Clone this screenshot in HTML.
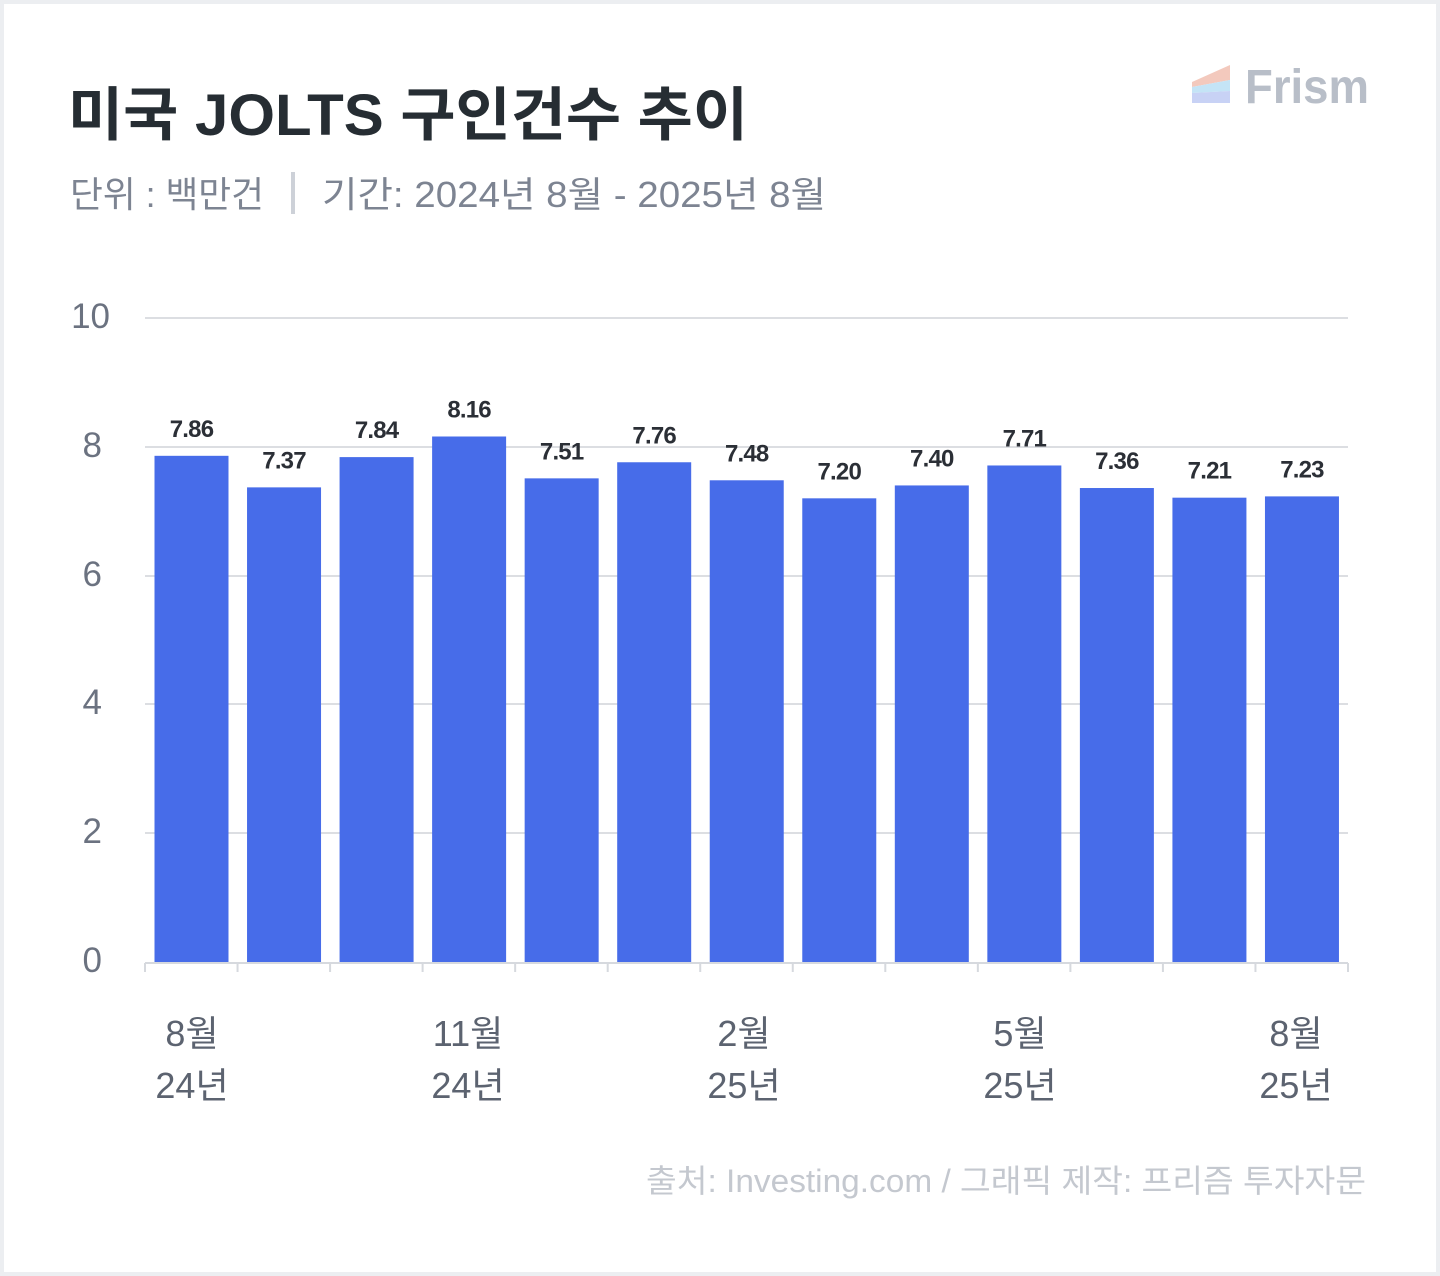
<!DOCTYPE html>
<html><head><meta charset="utf-8"><style>
html,body{margin:0;padding:0;background:#eceef1}
svg{display:block}
text{font-family:"Liberation Sans","Noto Sans CJK KR",sans-serif}
</style></head><body>
<svg width="1440" height="1276" viewBox="0 0 1440 1276" xmlns="http://www.w3.org/2000/svg">
<rect x="0" y="0" width="1440" height="1276" fill="#eceef1"/>
<rect x="4" y="4" width="1432" height="1268" fill="#ffffff"/>
<text x="68" y="135" font-size="58" font-weight="700" fill="#262d33" textLength="680" lengthAdjust="spacingAndGlyphs">미국 JOLTS 구인건수 추이</text>
<text x="70" y="207" font-size="36" fill="#7d8492" textLength="194" lengthAdjust="spacingAndGlyphs">단위 : 백만건</text>
<rect x="291" y="172" width="4" height="42" fill="#cdd1d8"/>
<text x="322" y="207" font-size="36" fill="#7d8492" textLength="504" lengthAdjust="spacingAndGlyphs">기간: 2024년 8월 - 2025년 8월</text>
<polygon points="1192,82 1230,65 1230,80 1192,87" fill="#f3c9bd"/>
<polygon points="1192,87 1230,80 1230,91 1192,93" fill="#c4e4f6"/>
<polygon points="1192,93 1230,91 1230,103 1192,103" fill="#c8d2f5"/>
<text x="1245" y="103" font-size="48" font-weight="700" fill="#b8bec8" textLength="124" lengthAdjust="spacingAndGlyphs">Frism</text>
<g stroke="#dcdee2" stroke-width="2">
<line x1="145" x2="1348" y1="318" y2="318"/>
<line x1="145" x2="1348" y1="447" y2="447"/>
<line x1="145" x2="1348" y1="576" y2="576"/>
<line x1="145" x2="1348" y1="704" y2="704"/>
<line x1="145" x2="1348" y1="833" y2="833"/>
</g>
<g font-size="35" fill="#6b7280" text-anchor="end">
<text x="110" y="328">10</text>
<text x="102" y="457">8</text>
<text x="102" y="586">6</text>
<text x="102" y="714">4</text>
<text x="102" y="843">2</text>
<text x="102" y="972">0</text>
</g>
<g fill="#476ce9" id="bars"></g>
<g id="labels" font-size="24" font-weight="700" fill="#2b2f36" text-anchor="middle" letter-spacing="-0.8"></g>
<g stroke="#d6d9de" stroke-width="2" id="ticks">
<line x1="145" x2="1348" y1="963" y2="963"/>
</g>
<g font-size="36" fill="#5c6370" text-anchor="middle">
<text x="192" y="1046">8월</text><text x="192" y="1098">24년</text>
<text x="468" y="1046">11월</text><text x="468" y="1098">24년</text>
<text x="744" y="1046">2월</text><text x="744" y="1098">25년</text>
<text x="1020" y="1046">5월</text><text x="1020" y="1098">25년</text>
<text x="1296" y="1046">8월</text><text x="1296" y="1098">25년</text>
</g>
<text x="1366" y="1192" font-size="32" fill="#c4c8cf" text-anchor="end" textLength="720" lengthAdjust="spacingAndGlyphs">출처: Investing.com / 그래픽 제작: 프리즘 투자자문</text>
</svg>
<script>
var v=[7.86,7.37,7.84,8.16,7.51,7.76,7.48,7.20,7.40,7.71,7.36,7.21,7.23];
var ns="http://www.w3.org/2000/svg",b=document.getElementById('bars'),l=document.getElementById('labels'),t=document.getElementById('ticks');
var w=(1348-145)/13;
for(var i=0;i<=13;i++){var ln=document.createElementNS(ns,'line');var x=145+i*w;ln.setAttribute('x1',x);ln.setAttribute('x2',x);ln.setAttribute('y1',963);ln.setAttribute('y2',972);t.appendChild(ln);}
v.forEach(function(d,i){var x=145+i*w+9.5,y=962-d*64.4;var r=document.createElementNS(ns,'rect');r.setAttribute('x',x);r.setAttribute('y',y);r.setAttribute('width',74);r.setAttribute('height',962-y);b.appendChild(r);
var tx=document.createElementNS(ns,'text');tx.setAttribute('x',x+37);tx.setAttribute('y',y-19);tx.textContent=d.toFixed(2);l.appendChild(tx);});
</script>
</body></html>
